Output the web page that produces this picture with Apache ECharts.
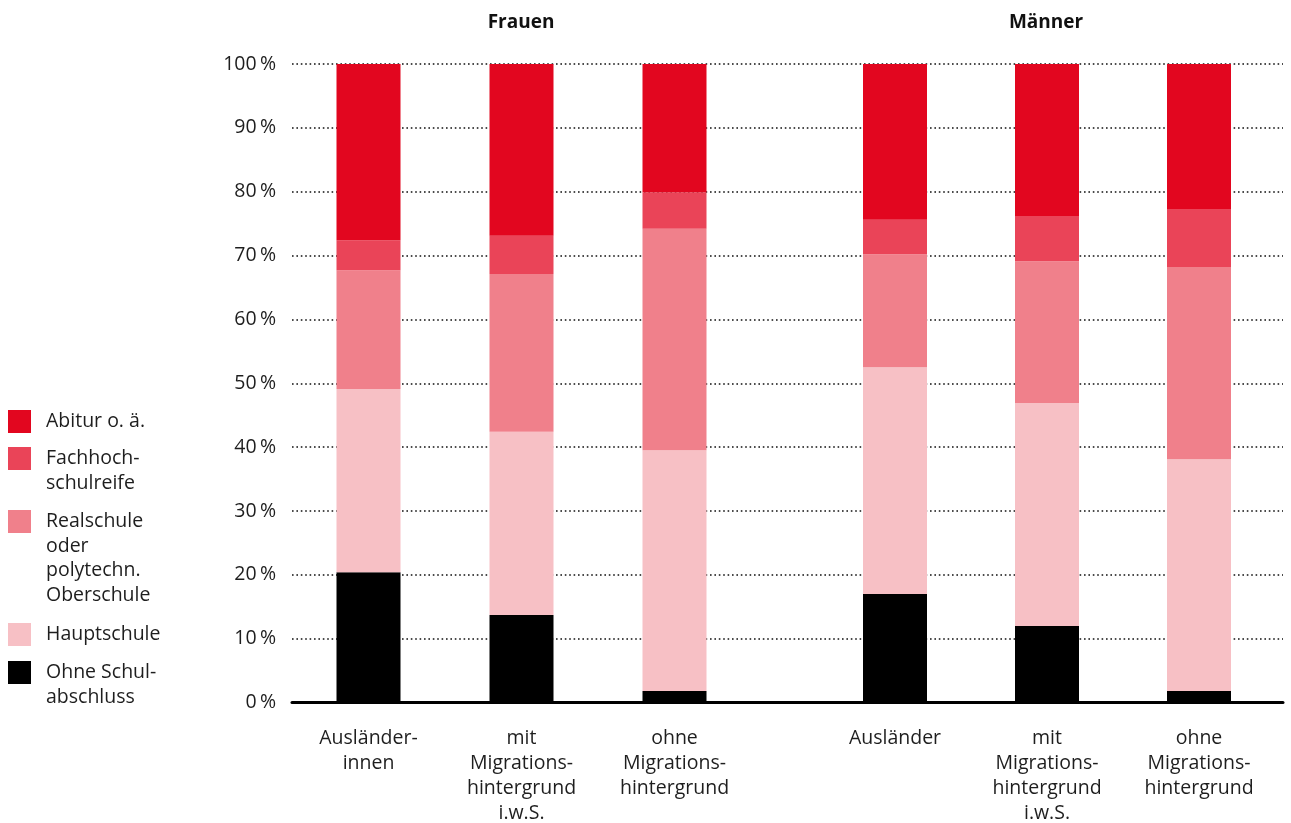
<!DOCTYPE html>
<html><head><meta charset="utf-8">
<script src="https://cdn.jsdelivr.net/npm/echarts@6/dist/echarts.min.js"></script>
<style>html,body{margin:0;padding:0;background:#fff}#c{width:1291px;height:823px}</style>
</head><body><div id="c"></div>
<script>
// ---- data ----
const groupTitles = ['Frauen', 'Männer'];
const categoriesF = ['Ausländer-\ninnen', 'mit\nMigrations-\nhintergrund\ni.w.S.', 'ohne\nMigrations-\nhintergrund'];
const categoriesM = ['Ausländer', 'mit\nMigrations-\nhintergrund\ni.w.S.', 'ohne\nMigrations-\nhintergrund'];
const seriesNames = ['Ohne Schulabschluss', 'Hauptschule', 'Realschule oder polytechn. Oberschule', 'Fachhochschulreife', 'Abitur o. ä.'];
const legendLabels = ['Ohne Schul-\nabschluss', 'Hauptschule', 'Realschule\noder\npolytechn.\nOberschule', 'Fachhoch-\nschulreife', 'Abitur o. ä.'];
const yTicks = [0, 10, 20, 30, 40, 50, 60, 70, 80, 90, 100];

const ohneF   = [20.4, 13.7, 1.8];
const hauptF  = [28.7, 28.7, 37.7];
const realF   = [18.6, 24.7, 34.7];
const fachF   = [4.7, 6.0, 5.7];
const abiturF = [27.6, 26.9, 20.1];

const ohneM   = [17.0, 12.0, 1.8];
const hauptM  = [35.5, 34.9, 36.3];
const realM   = [17.7, 22.2, 30.1];
const fachM   = [5.4, 7.1, 9.1];
const abiturM = [24.4, 23.8, 22.7];

// ---- styles ----
const colors = ['#000000', '#f7c0c5', '#f0808b', '#ea4458', '#e2061f'];
const FONT = '"Open Sans", "Noto Sans", sans-serif';
const TXT = '#1e1e1e';
const FS = 19.5;

const valuesF = [ohneF, hauptF, realF, fachF, abiturF];
const valuesM = [ohneM, hauptM, realM, fachM, abiturM];

const TOP = 64, BOTTOM = 823 - 702.5;

const series = [];
[valuesF, valuesM].forEach((vals, gi) => {
  vals.forEach((arr, si) => {
    series.push({
      type: 'bar', name: seriesNames[si], stack: 'g' + gi,
      xAxisIndex: gi + 1, yAxisIndex: gi + 1,
      data: arr, barWidth: 64,
      itemStyle: { color: colors[si] },
      emphasis: { disabled: true }
    });
  });
});

// legend: one component per entry; leading blank lines keep the icon beside the first text line
const legendIconTops = { 'Abitur o. ä.': 410, 'Fachhochschulreife': 447, 'Realschule oder polytechn. Oberschule': 510, 'Hauptschule': 623, 'Ohne Schulabschluss': 661 };
const LH = 24.5;
const legends = seriesNames.map((name, i) => {
  const label = legendLabels[i];
  const n = label.split('\n').length;
  const shown = '\n'.repeat(n - 1) + label;
  const rectTop = 11.5 - (2 * n - 1) * LH / 2;
  return {
    data: [name], orient: 'vertical', left: 8, top: legendIconTops[name] + Math.min(0, rectTop),
    padding: 0, itemWidth: 23, itemHeight: 23, icon: 'rect', selectedMode: false,
    formatter: () => shown,
    textStyle: { fontFamily: FONT, fontSize: FS, color: TXT, lineHeight: LH, padding: [0, 0, 0, 10], backgroundColor: 'transparent' }
  };
});

const catAxis = (cats) => ({
  type: 'category', data: cats,
  axisLine: { show: false }, axisTick: { show: false },
  axisLabel: { fontFamily: FONT, fontSize: FS, color: TXT, lineHeight: 25, margin: 23, interval: 0 },
  splitLine: { show: false }
});
const hiddenY = (gi) => ({ type: 'value', gridIndex: gi, min: 0, max: 100, show: false, splitLine: { show: false } });

const titleStyle = { fontFamily: FONT, fontSize: 19, fontWeight: 'bold', color: '#111' };

const option = {
  animation: false,
  backgroundColor: '#fff',
  title: [
    { text: groupTitles[0], left: 521, top: 13, textAlign: 'center', padding: 0, textStyle: titleStyle },
    { text: groupTitles[1], left: 1046, top: 13, textAlign: 'center', padding: 0, textStyle: titleStyle }
  ],
  legend: legends,
  grid: [
    { left: 292, right: 8, top: TOP, bottom: BOTTOM, outerBoundsMode: 'none', containLabel: false },
    { left: 292, width: 459, top: TOP, bottom: BOTTOM, outerBoundsMode: 'none', containLabel: false },
    { left: 819, width: 456, top: TOP, bottom: BOTTOM, outerBoundsMode: 'none', containLabel: false }
  ],
  xAxis: [
    { type: 'value', gridIndex: 0, min: 0, max: 1, z: 5,
      axisLabel: { show: false }, axisTick: { show: false }, splitLine: { show: false },
      axisLine: { show: true, lineStyle: { color: '#000', width: 3 } } },
    Object.assign({ gridIndex: 1 }, catAxis(categoriesF)),
    Object.assign({ gridIndex: 2 }, catAxis(categoriesM))
  ],
  yAxis: [
    { type: 'value', gridIndex: 0, min: yTicks[0], max: yTicks[yTicks.length - 1], interval: 10,
      axisLine: { show: false }, axisTick: { show: false },
      axisLabel: { fontFamily: FONT, fontSize: FS, color: TXT, margin: 16, formatter: v => v + '\u2009%' },
      splitLine: { show: true, lineStyle: { color: '#111', width: 1.6, type: [1.6, 2.8] } } },
    hiddenY(1), hiddenY(2)
  ],
  series: series
};

const chart = echarts.init(document.getElementById('c'), null, { renderer: 'canvas' });
chart.setOption(option);
</script>
</body></html>
